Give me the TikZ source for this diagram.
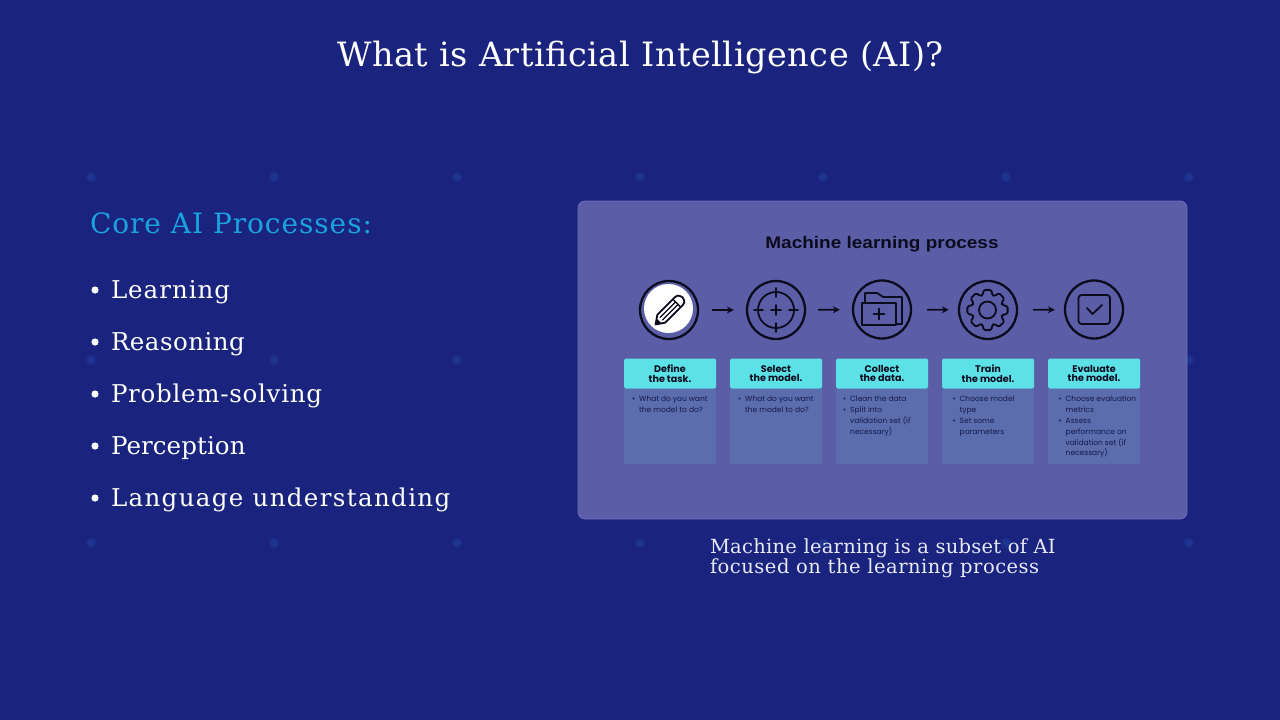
\documentclass[tikz,border=0pt]{standalone}
\usepackage{fontspec}
\setmainfont{DejaVu Serif}
\newfontfamily\popfont{Poppins}
\newfontfamily\headfont[FakeStretch=1.13]{Liberation Sans}
\usetikzlibrary{arrows.meta}
\definecolor{bgblue}{HTML}{1A237E}
\definecolor{dotblue}{HTML}{1E3490}
\definecolor{dotsoft}{HTML}{1B2B85}
\definecolor{panelc}{HTML}{5B5EA6}
\definecolor{panelb}{HTML}{6A6FB8}
\definecolor{headc}{HTML}{5CE1E6}
\definecolor{bodyc}{HTML}{5B6DAC}
\definecolor{inkc}{HTML}{0B0B1E}
\definecolor{bodyink}{HTML}{14184F}
\definecolor{corec}{HTML}{1BA3DF}
\definecolor{capc}{HTML}{E8EAF6}
\tikzset{
  x=1pt,y=-1pt,
  txt/.style={inner sep=0pt,outer sep=0pt,anchor=base west,text=white},
  ring/.style={circle,draw=inkc,line width=2.3pt,minimum size=58pt,inner sep=0pt},
  icon/.style={draw=inkc,line width=1.8pt,line join=round,line cap=round},
  thinicon/.style={draw=inkc,line width=1.3pt,line cap=round},
  flow/.style={draw=inkc,line width=1.7pt,-{Stealth[length=7pt,width=7pt]}},
  head/.style={rectangle,rounded corners=1.5pt,fill=headc,minimum width=92pt,minimum height=30pt,inner sep=0pt,text=inkc,align=center,font=\popfont\fontsize{9.6}{9.8}\selectfont\bfseries},
  bodybox/.style={rectangle,fill=bodyc,minimum width=92pt,minimum height=75pt,inner sep=0pt},
  btext/.style={inner sep=0pt,anchor=north west,align=left,text=bodyink,font=\popfont\fontsize{7.5}{10.8}\selectfont},
}
\newcommand{\bl}{\leavevmode\llap{\textbullet\hspace{4pt}}}
\begin{document}
\begin{tikzpicture}
\useasboundingbox (0,0) rectangle (1280,720);
\fill[bgblue] (0,0) rectangle (1280,720);
\foreach \dx in {91,274,457,640,823,1006,1189}
  \foreach \dy in {177,360,543}{
    \fill[dotsoft] (\dx,\dy) circle (5.5);
    \fill[dotblue] (\dx,\dy) circle (3.8);
  }
% title and left column
\node[txt,anchor=base] (title) at (640.5,66) {\fontsize{33.5}{40}\selectfont\addfontfeature{LetterSpace=1.6}What is Artificial Intelligence (AI)?};
\node[txt,text=corec] (core) at (90,233) {\fontsize{28}{34}\selectfont\addfontfeature{LetterSpace=3.4}Core AI Processes:};
\foreach \nm/\ty/\ls/\tx in {a/298.5/4/Learning,b/350.5/2/Reasoning,c/402.5/3/Problem-solving,d/454.5/0.4/Perception,e/506.5/5.6/Language understanding}{
  \fill[white] (95,\ty-8.5) circle (3.6);
  \node[txt] (item\nm) at (111,\ty) {\fontsize{24.5}{30}\selectfont\addfontfeature{LetterSpace=\ls}\tx};
}
% panel
\draw[draw=panelb,fill=panelc,line width=0.8pt,rounded corners=7pt] (578,201) rectangle (1187,519);
\node[inner sep=0pt,text=inkc] (ptitle) at (882,244.5) {\headfont\bfseries\fontsize{16.8}{20}\selectfont Machine learning process};
% icons
\node[ring,fill=panelc] (r1) at (669,310) {};
\node[ring] (r2) at (776,310) {};
\node[ring] (r3) at (882,309.5) {};
\node[ring] (r4) at (988,310) {};
\node[ring] (r5) at (1094,309.5) {};
\draw[flow,shorten <=13pt,shorten >=12pt] (r1) -- (r2);
\draw[flow,shorten <=12pt,shorten >=12pt] (r2) -- (r3);
\draw[flow,shorten <=15pt,shorten >=9pt] (r3) -- (r4);
\draw[flow,shorten <=15pt,shorten >=9pt] (r4) -- (r5);
% pencil
\fill[white] (668.5,308.5) circle (24.5);
\draw[icon,fill=white] (655.6,324.4) -- (657.3,314.9) -- (675,297.2) .. controls (680,292.3) and (687.7,300) .. (682.8,305) -- (665.1,322.7) -- cycle;
\draw[thinicon] (660,317.5) -- (675.5,302);
\draw[thinicon] (662.5,320) -- (678,304.5);
\draw[thinicon] (672.9,299.3) -- (680.7,307.1);
\fill[inkc] (655.6,324.4) -- (656.8,318.6) -- (661.4,323.2) -- cycle;
% target
\draw[icon] (776,310) circle (18);
\draw[icon] (776,288) -- (776,297);
\draw[icon] (776,323) -- (776,332);
\draw[icon] (754,310) -- (763,310);
\draw[icon] (789,310) -- (798,310);
\draw[icon] (771,310) -- (781,310);
\draw[icon] (776,305) -- (776,315);
% folder
\draw[icon] (865,303) -- (865,293) -- (877,293) -- (883,297) -- (902,297) -- (902,324) -- (897,324);
\draw[icon] (862,303) -- (896,303) -- (896,325) -- (862,325) -- cycle;
\draw[icon] (873.5,314) -- (884.5,314);
\draw[icon] (879,308.5) -- (879,319.5);
% gear
\draw[icon] (987.5,310) circle (8.5);
\begin{scope}[shift={(987.5,310)}]
\draw[icon,rounded corners=1.6pt] (-18:15.5)
  \foreach \a in {0,45,...,315}{ -- (\a-18:15.5) -- (\a-11:20.5) -- (\a+11:20.5) -- (\a+18:15.5)} -- cycle;
\end{scope}
% check
\draw[icon,rounded corners=3pt] (1078.5,295) rectangle (1110,324);
\draw[icon] (1087,308) -- (1092.5,314) -- (1102,305);
% columns
\foreach \n/\cx in {1/670,2/776,3/882,4/988,5/1094}{
  \node[bodybox] (body\n) at (\cx,426.5) {};
}
\node[head] (h1) at (670,373.5) {Define\\the task.};
\node[head] (h2) at (776,373.5) {Select\\the model.};
\node[head] (h3) at (882,373.5) {Collect\\the data.};
\node[head] (h4) at (988,373.5) {Train\\the model.};
\node[head] (h5) at (1094,373.5) {Evaluate\\the model.};
\node[btext] (t1) at (639,396) {\bl What do you want\\the model to do?};
\node[btext] (t2) at (745,396) {\bl What do you want\\the model to do?};
\node[btext] (t3) at (850,396) {\bl Clean the data\\\bl Split into\\validation set (if\\necessary)};
\node[btext] (t4) at (959.5,396) {\bl Choose model\\type\\\bl Set some\\parameters};
\node[btext] (t5) at (1065.5,396) {\bl Choose evaluation\\metrics\\\bl Assess\\performance on\\validation set (if\\necessary)};
% caption
\node[txt,text=capc] (cap1) at (710,553) {\fontsize{19.5}{24}\selectfont\addfontfeature{LetterSpace=1.4}Machine learning is a subset of AI};
\node[txt,text=capc] (cap2) at (710,573) {\fontsize{19.5}{24}\selectfont\addfontfeature{LetterSpace=2.6}focused on the learning process};
\end{tikzpicture}
\end{document}
